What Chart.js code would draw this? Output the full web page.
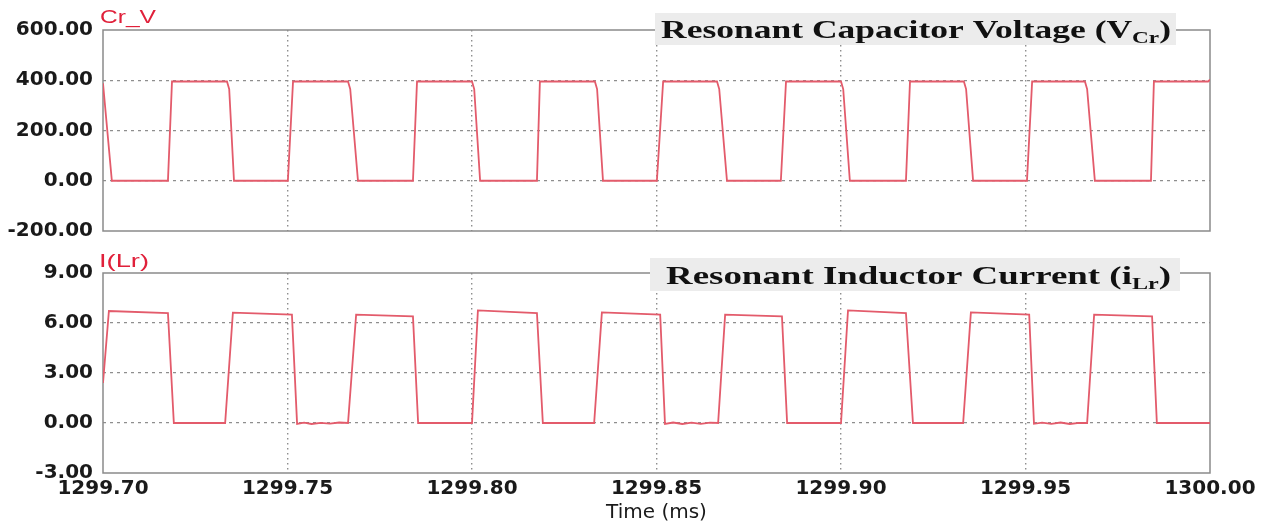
<!DOCTYPE html>
<html>
<head>
<meta charset="utf-8">
<style>
  body { margin: 0; background: #fff; }
  #wrap { position: relative; width: 1264px; height: 526px; }
  canvas { position: absolute; left: 0; top: 0; }
</style>
</head>
<body>
<div id="wrap">
  <canvas id="chartV" width="1264" height="526"></canvas>
  <canvas id="chartI" width="1264" height="526"></canvas>
</div>
<script src="https://cdn.jsdelivr.net/npm/chart.js@4.4.1/dist/chart.umd.min.js"></script>
<script>
// time axis (ms)
var timeMin = 1299.70;
var timeMax = 1300.00;
var timeStep = 0.05;

// tick values of the two panels
var vTicks = [-200, 0, 200, 400, 600];
var iTicks = [-3, 0, 3, 6, 9];

// resonant capacitor voltage Cr_V (V)
var crTime = [1299.7000, 1299.7024, 1299.7176, 1299.7187, 1299.7336, 1299.7342, 1299.7355,
  1299.7501, 1299.7515, 1299.7664, 1299.7670, 1299.7691,
  1299.7840, 1299.7851, 1299.8000, 1299.8006, 1299.8022,
  1299.8176, 1299.8184, 1299.8333, 1299.8339, 1299.8355,
  1299.8501, 1299.8518, 1299.8664, 1299.8670, 1299.8691,
  1299.8837, 1299.8851, 1299.9000, 1299.9006, 1299.9024,
  1299.9176, 1299.9187, 1299.9333, 1299.9339, 1299.9358,
  1299.9504, 1299.9518, 1299.9661, 1299.9667, 1299.9688,
  1299.9840, 1299.9848, 1299.9995, 1300.0000];
var crVolt = [388, 0, 0, 395, 395, 365, 0,
  0, 395, 395, 365, 0,
  0, 395, 395, 365, 0,
  0, 395, 395, 365, 0,
  0, 395, 395, 365, 0,
  0, 395, 395, 365, 0,
  0, 395, 395, 365, 0,
  0, 395, 395, 365, 0,
  0, 395, 395, 402];

// resonant inductor current I(Lr) (A)
var lrTime = [1299.7000, 1299.7016, 1299.7176, 1299.7192, 1299.7331, 1299.7352, 1299.7512,
  1299.7526, 1299.7545, 1299.7565, 1299.7590, 1299.7615, 1299.7640, 1299.7664,
  1299.7686, 1299.7840, 1299.7854, 1299.8000, 1299.8016, 1299.8176, 1299.8192,
  1299.8331, 1299.8352, 1299.8510,
  1299.8523, 1299.8545, 1299.8570, 1299.8595, 1299.8620, 1299.8645, 1299.8667,
  1299.8686, 1299.8840, 1299.8854, 1299.9000, 1299.9019, 1299.9176, 1299.9195,
  1299.9331, 1299.9352, 1299.9510,
  1299.9523, 1299.9545, 1299.9570, 1299.9595, 1299.9620, 1299.9645, 1299.9667,
  1299.9686, 1299.9843, 1299.9856, 1300.0000];
var lrAmp = [2.4, 6.72, 6.6, 0, 0, 6.62, 6.5,
  -0.05, 0.02, -0.06, 0.01, -0.04, 0.03, 0,
  6.5, 6.4, 0, 0, 6.76, 6.6, 0,
  0, 6.64, 6.5,
  -0.05, 0.03, -0.06, 0.02, -0.05, 0.02, 0,
  6.5, 6.4, 0, 0, 6.76, 6.6, 0,
  0, 6.64, 6.5,
  -0.05, 0.02, -0.05, 0.03, -0.06, 0.01, 0,
  6.5, 6.4, 0, 0];

var gridGray = '#8e8e8e';
var tickFont = { family: 'DejaVu Sans', size: 20, weight: 'bold' };

function near(a, b) { return Math.abs(a - b) < 1e-6; }

// draw a run of text pieces squeezed/stretched to a given width
function stretchText(ctx, parts, x, y, width) {
  var w = 0;
  parts.forEach(function (p) { ctx.font = p.font; w += ctx.measureText(p.text).width; });
  ctx.save();
  ctx.translate(x, y);
  ctx.scale(width / w, 1);
  var cx = 0;
  parts.forEach(function (p) {
    ctx.font = p.font;
    ctx.fillText(p.text, cx, p.dy || 0);
    cx += ctx.measureText(p.text).width;
  });
  ctx.restore();
}

var panelDecor = {
  id: 'panelDecor',
  beforeDatasetsDraw: function (chart) {
    var a = chart.chartArea, ctx = chart.ctx;
    ctx.save();
    ctx.strokeStyle = '#8a8a8a';
    ctx.lineWidth = 1.5;
    ctx.strokeRect(a.left, a.top, a.right - a.left, a.bottom - a.top);
    ctx.restore();
  },
  afterDraw: function (chart, args, o) {
    var ctx = chart.ctx;
    ctx.save();
    ctx.textBaseline = 'alphabetic';
    ctx.fillStyle = '#e0203a';
    stretchText(ctx, [{ text: o.label, font: '19px "Liberation Sans"' }], o.labelX, o.labelY, o.labelW);
    ctx.fillStyle = '#ececec';
    ctx.fillRect(o.box[0], o.box[1], o.box[2], o.box[3]);
    ctx.fillStyle = '#111';
    stretchText(ctx, [
      { text: o.main, font: 'bold 26px "Liberation Serif"' },
      { text: o.sub, font: 'bold 17px "Liberation Serif"', dy: 5 },
      { text: ')', font: 'bold 26px "Liberation Serif"' }
    ], o.textX, o.textY, o.textW);
    ctx.restore();
  }
};

function makePanel(id, times, values, ticks, showTime, pad, xHeight, decor) {
  var pts = times.map(function (t, i) { return { x: t, y: values[i] }; });
  var yMin = ticks[0], yMax = ticks[ticks.length - 1];
  return new Chart(document.getElementById(id).getContext('2d'), {
    type: 'line',
    data: {
      datasets: [{
        data: pts,
        borderColor: '#e35b6b',
        borderWidth: 1.8,
        pointRadius: 0,
        tension: 0,
        fill: false
      }]
    },
    options: {
      responsive: false,
      animation: false,
      devicePixelRatio: 1,
      events: [],
      layout: { padding: pad },
      plugins: { legend: { display: false }, tooltip: { enabled: false }, panelDecor: decor },
      scales: {
        x: {
          type: 'linear',
          min: timeMin,
          max: timeMax,
          afterFit: function (s) { s.height = xHeight; },
          ticks: {
            display: showTime,
            stepSize: timeStep,
            maxRotation: 0,
            autoSkip: false,
            padding: 4,
            color: '#1a1a1a',
            font: tickFont,
            callback: function (v) { return v.toFixed(2); }
          },
          grid: {
            drawTicks: false,
            lineWidth: 1.4,
            color: function (c) {
              return (near(c.tick.value, timeMin) || near(c.tick.value, timeMax)) ? 'rgba(0,0,0,0)' : gridGray;
            }
          },
          border: { display: false, dash: [1.5, 3.5] },
          title: {
            display: showTime,
            text: 'Time (ms)',
            color: '#1a1a1a',
            font: { family: 'DejaVu Sans', size: 20 },
            padding: { top: 0, bottom: 1 }
          }
        },
        y: {
          min: yMin,
          max: yMax,
          afterFit: function (s) { s.width = 103; },
          ticks: {
            stepSize: ticks[1] - ticks[0],
            padding: 10,
            color: '#1a1a1a',
            font: tickFont,
            callback: function (v) { return v.toFixed(2); }
          },
          grid: {
            drawTicks: false,
            lineWidth: 1.2,
            color: function (c) {
              return (c.tick.value === yMin || c.tick.value === yMax) ? 'rgba(0,0,0,0)' : gridGray;
            }
          },
          border: { display: false, dash: [3, 4] }
        }
      }
    },
    plugins: [panelDecor]
  });
}

makePanel('chartV', crTime, crVolt, vTicks, false,
  { top: 30, right: 54, bottom: 295, left: 0 }, 0,
  { label: 'Cr_V', labelX: 100, labelY: 23, labelW: 56,
    box: [655, 13, 521, 32], main: 'Resonant Capacitor Voltage (V', sub: 'Cr',
    textX: 661, textY: 38, textW: 510 });

makePanel('chartI', lrTime, lrAmp, iTicks, true,
  { top: 273, right: 54, bottom: 0, left: 0 }, 53,
  { label: 'I(Lr)', labelX: 99, labelY: 267, labelW: 50,
    box: [650, 258, 530, 33], main: 'Resonant Inductor Current (i', sub: 'Lr',
    textX: 666, textY: 284, textW: 505 });
</script>
</body>
</html>
